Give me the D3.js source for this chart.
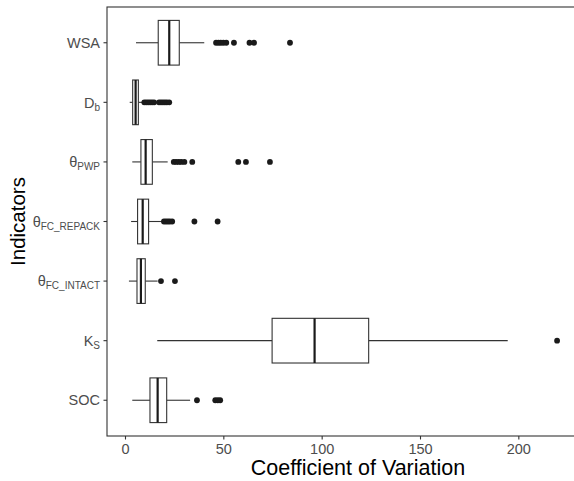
<!DOCTYPE html>
<html><head><meta charset="utf-8">
<script src="https://cdn.jsdelivr.net/npm/d3@7"></script>
<style>body{margin:0;background:#fff;overflow:hidden}svg{display:block}</style>
</head><body>
<script>
// Data (top to bottom)
const categories = ["WSA", "Db", "PWP", "FC_REPACK", "FC_INTACT", "KS", "SOC"];
const labelMain = ["WSA", "D", "θ", "θ", "θ", "K", "SOC"];
const labelSub  = ["",    "b", "PWP", "FC_REPACK", "FC_INTACT", "S", ""];
const whiskerLow  = [5.6, 2.4, 3.7, 3.1, 2.0, 16.4, 3.7];
const q1          = [16.9, 3.9, 8.1, 6.4, 6.1, 74.8, 12.7];
const median      = [22.5, 5.4, 10.5, 9.0, 8.1, 96.4, 16.6];
const q3          = [27.6, 6.8, 13.9, 12.0, 10.3, 123.9, 21.2];
const whiskerHigh = [40.3, 9.0, 21.7, 19.5, 16.6, 194.6, 33.1];
const outliers = [
  [46.3, 47.5, 48.7, 50.0, 51.5, 55.4, 63.3, 65.6, 83.9],
  [9.8, 10.8, 11.8, 12.8, 13.8, 14.8, 17.3, 18.3, 19.3, 20.3, 21.3, 22.5],
  [24.8, 26.0, 27.3, 28.6, 30.2, 34.2, 57.6, 61.5, 73.7],
  [19.8, 20.8, 21.8, 22.8, 24.0, 35.3, 47.1],
  [18.3, 25.4],
  [219.7],
  [36.6, 45.9, 47.2, 48.4]
];
const xTicks = [0, 50, 100, 150, 200];

const W = 574, H = 481;
// panel extends past the right edge of the picture (cropped)
const m = {left: 107, right: -35, top: 7, bottom: 45};
const svg = d3.select("body").append("svg").attr("width", W).attr("height", H);

const x = d3.scaleLinear().domain([-9.15, 246.1]).range([m.left, W - m.right]);
const y = d3.scaleBand().domain(categories).range([m.top, H - m.bottom]).paddingOuter(0.1).paddingInner(0);
const bh = y.bandwidth() * 0.75;
const ink = "#333333";

const g = svg.append("g");
categories.forEach((c, i) => {
  const cy = y(c) + y.bandwidth() / 2;
  const gg = g.append("g");
  gg.append("line").attr("x1", x(whiskerLow[i])).attr("x2", x(q1[i])).attr("y1", cy).attr("y2", cy)
    .attr("stroke", ink).attr("stroke-width", 1.1);
  gg.append("line").attr("x1", x(q3[i])).attr("x2", x(whiskerHigh[i])).attr("y1", cy).attr("y2", cy)
    .attr("stroke", ink).attr("stroke-width", 1.1);
  gg.append("rect").attr("x", x(q1[i])).attr("width", x(q3[i]) - x(q1[i]))
    .attr("y", cy - bh / 2).attr("height", bh)
    .attr("fill", "#fff").attr("stroke", ink).attr("stroke-width", 1.1);
  gg.append("line").attr("x1", x(median[i])).attr("x2", x(median[i]))
    .attr("y1", cy - bh / 2).attr("y2", cy + bh / 2)
    .attr("stroke", "#1a1a1a").attr("stroke-width", 2.2);
  gg.selectAll("circle").data(outliers[i]).enter().append("circle")
    .attr("cx", d => x(d)).attr("cy", cy).attr("r", 2.9).attr("fill", "#1a1a1a");
});

// panel border
svg.append("rect").attr("x", m.left).attr("y", m.top)
  .attr("width", W - m.right - m.left).attr("height", H - m.bottom - m.top)
  .attr("fill", "none").attr("stroke", "#333").attr("stroke-width", 1.1);

// x axis
const xa = svg.append("g").attr("transform", `translate(0,${H - m.bottom})`)
  .call(d3.axisBottom(x).tickValues(xTicks).tickSize(3.5).tickPadding(4));
xa.select(".domain").remove();
xa.selectAll(".tick line").attr("stroke", "#333").attr("stroke-width", 1.1);
xa.selectAll(".tick text").attr("fill", "#4d4d4d").style("font-family", "Liberation Sans, Arial, sans-serif").style("font-size", "14.5px");

// y axis
const ya = svg.append("g").attr("transform", `translate(${m.left},0)`)
  .call(d3.axisLeft(y).tickSize(3.5).tickPadding(5).tickFormat(""));
ya.select(".domain").remove();
ya.selectAll(".tick line").attr("stroke", "#333").attr("stroke-width", 1.1);
ya.selectAll(".tick").each(function(c) {
  const i = categories.indexOf(c);
  const t = d3.select(this).append("text").attr("x", -7).attr("dy", "0.36em")
    .attr("text-anchor", "end").attr("fill", "#4d4d4d")
    .style("font-family", "Liberation Sans, Arial, sans-serif").style("font-size", "14.5px");
  t.append("tspan").text(labelMain[i]);
  if (labelSub[i]) t.append("tspan").attr("dy", "0.3em").style("font-size", "10px").text(labelSub[i]);
});

// titles
svg.append("text").attr("x", 358).attr("y", 475)
  .attr("text-anchor", "middle").attr("fill", "#000")
  .style("font-family", "Liberation Sans, Arial, sans-serif").style("font-size", "21.5px")
  .text("Coefficient of Variation");
svg.append("text").attr("transform", `translate(25,${(m.top + H - m.bottom) / 2}) rotate(-90)`)
  .attr("text-anchor", "middle").attr("fill", "#000")
  .style("font-family", "Liberation Sans, Arial, sans-serif").style("font-size", "20.5px")
  .text("Indicators");
</script>
</body></html>
